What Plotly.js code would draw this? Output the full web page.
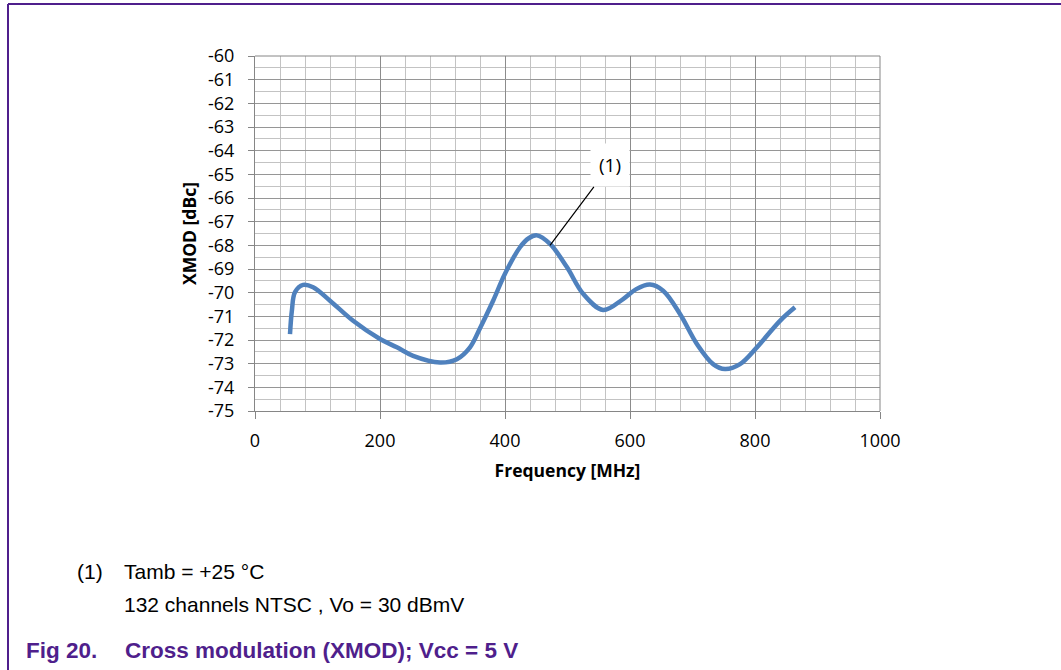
<!DOCTYPE html>
<html>
<head>
<meta charset="utf-8">
<script src="https://cdn.plot.ly/plotly-3.0.1.min.js"></script>
<style>
  html, body { margin: 0; padding: 0; background: #ffffff; }
  #chart { width: 1061px; height: 670px; }
</style>
</head>
<body>
<div id="chart"></div>
<script>
// Data
const freqMHz = [56, 59, 64, 77, 93, 120, 157, 200, 227, 253, 296, 323, 344, 360, 381, 400, 424, 438, 451, 472, 499, 525, 557, 589, 610, 632, 653, 680, 707, 733, 752, 776, 803, 840, 864];
const xmodDbc = [-71.75, -70.76, -69.98, -69.67, -69.77, -70.34, -71.19, -71.96, -72.31, -72.67, -72.95, -72.81, -72.31, -71.5, -70.34, -69.2, -68.08, -67.7, -67.58, -67.94, -68.92, -70.05, -70.73, -70.27, -69.85, -69.66, -69.92, -70.9, -72.17, -73.02, -73.23, -73.02, -72.31, -71.19, -70.62];

const xTickVals = [0, 200, 400, 600, 800, 1000];
const yTickVals = [-60, -61, -62, -63, -64, -65, -66, -67, -68, -69, -70, -71, -72, -73, -74, -75];

const axisTitleX = "Frequency [MHz]";
const axisTitleY = "XMOD [dBc]";
const curveLabel = "(1)";
const noteMark = "(1)";
const noteLine1 = "Tamb = +25 °C";
const noteLine2 = "132 channels NTSC , Vo = 30 dBmV";
const figNumber = "Fig 20.";
const figTitle = "Cross modulation (XMOD); Vcc = 5 V";

// plot area geometry (pixels)
const L = 255, R = 880, T = 56, B = 411;
const W = 1061, H = 670;
const px = p => (p - L) / (R - L);
const py = p => (B - p) / (B - T);

const tickFont = { family: "Open Sans, sans-serif", size: 18, color: "#000" };
const titleFont = { family: "Open Sans, sans-serif", size: 17.5, color: "#000" };
const noteFont = { family: "Liberation Sans, Arial, sans-serif", size: 21, color: "#000" };
const purple = "#4f1f8c";
const capFont = { family: "Liberation Sans, Arial, sans-serif", size: 22.5, color: purple };

const trace = {
  x: freqMHz,
  y: xmodDbc,
  type: "scatter",
  mode: "lines",
  line: { color: "#4f81bd", width: 4.5, shape: "spline", smoothing: 1 },
  hoverinfo: "x+y",
  showlegend: false
};

const layout = {
  width: W,
  height: H,
  margin: { l: L, r: W - R, t: T, b: H - B },
  paper_bgcolor: "#ffffff",
  plot_bgcolor: "#ffffff",
  showlegend: false,
  xaxis: {
    range: [0, 1000],
    tickvals: xTickVals,
    ticktext: xTickVals.map(String),
    tickfont: tickFont,
    ticks: "outside",
    ticklen: 7,
    tickcolor: "#868686",
    ticklabelstandoff: 6,
    showline: true,
    linecolor: "#868686",
    linewidth: 1,
    showgrid: true,
    gridcolor: "#8c8c8c",
    gridwidth: 1,
    zeroline: false,
    minor: { dtick: 40, tick0: 0, showgrid: true, gridcolor: "#c3c3c3", gridwidth: 1, ticks: "" },
    fixedrange: true,
    title: { text: "<b>" + axisTitleX + "</b>", font: titleFont, standoff: 14 }
  },
  yaxis: {
    range: [-75, -60],
    tickvals: yTickVals,
    ticktext: yTickVals.map(String),
    tickfont: tickFont,
    ticks: "outside",
    ticklen: 6,
    tickcolor: "#868686",
    ticklabelstandoff: 10,
    showline: true,
    linecolor: "#868686",
    linewidth: 1,
    showgrid: true,
    gridcolor: "#969696",
    gridwidth: 1,
    zeroline: false,
    minor: { dtick: 0.5, tick0: -75, showgrid: true, gridcolor: "#c3c3c3", gridwidth: 1, ticks: "" },
    fixedrange: true,
    title: { text: "<b>" + axisTitleY + "</b>", font: titleFont, standoff: 6 }
  },
  shapes: [
    { type: "line", xref: "paper", yref: "paper", x0: 1, x1: 1, y0: 0, y1: 1, line: { color: "#868686", width: 1 } },
    { type: "line", xref: "paper", yref: "paper", x0: 0, x1: 1, y0: 1, y1: 1, line: { color: "#868686", width: 1 } },
    // page frame (purple)
    { type: "line", xref: "paper", yref: "paper", x0: px(8), x1: px(1061), y0: py(4), y1: py(4), line: { color: purple, width: 2 } },
    { type: "line", xref: "paper", yref: "paper", x0: px(8), x1: px(8), y0: py(4), y1: py(670), line: { color: purple, width: 2 } }
  ],
  annotations: [
    {
      x: 472, y: -68.0, xref: "x", yref: "y",
      ax: 568, ay: -64.62, axref: "x", ayref: "y",
      text: curveLabel,
      showarrow: true, arrowhead: 0, arrowwidth: 1.2, arrowcolor: "#000",
      bgcolor: "#ffffff", borderpad: 8,
      font: { family: "Open Sans, sans-serif", size: 19, color: "#000" }
    },
    { xref: "paper", yref: "paper", x: px(75), y: py(571), xanchor: "left", yanchor: "middle",
      text: noteMark, showarrow: false, font: noteFont },
    { xref: "paper", yref: "paper", x: px(122), y: py(571), xanchor: "left", yanchor: "middle",
      text: noteLine1, showarrow: false, font: noteFont },
    { xref: "paper", yref: "paper", x: px(122), y: py(604), xanchor: "left", yanchor: "middle",
      text: noteLine2, showarrow: false, font: noteFont },
    { xref: "paper", yref: "paper", x: px(24), y: py(650), xanchor: "left", yanchor: "middle",
      text: "<b>" + figNumber + "</b>", showarrow: false, font: capFont },
    { xref: "paper", yref: "paper", x: px(123), y: py(650), xanchor: "left", yanchor: "middle",
      text: "<b>" + figTitle + "</b>", showarrow: false, font: capFont }
  ]
};

Plotly.newPlot("chart", [trace], layout, { displayModeBar: false, staticPlot: true });
</script>
</body>
</html>
